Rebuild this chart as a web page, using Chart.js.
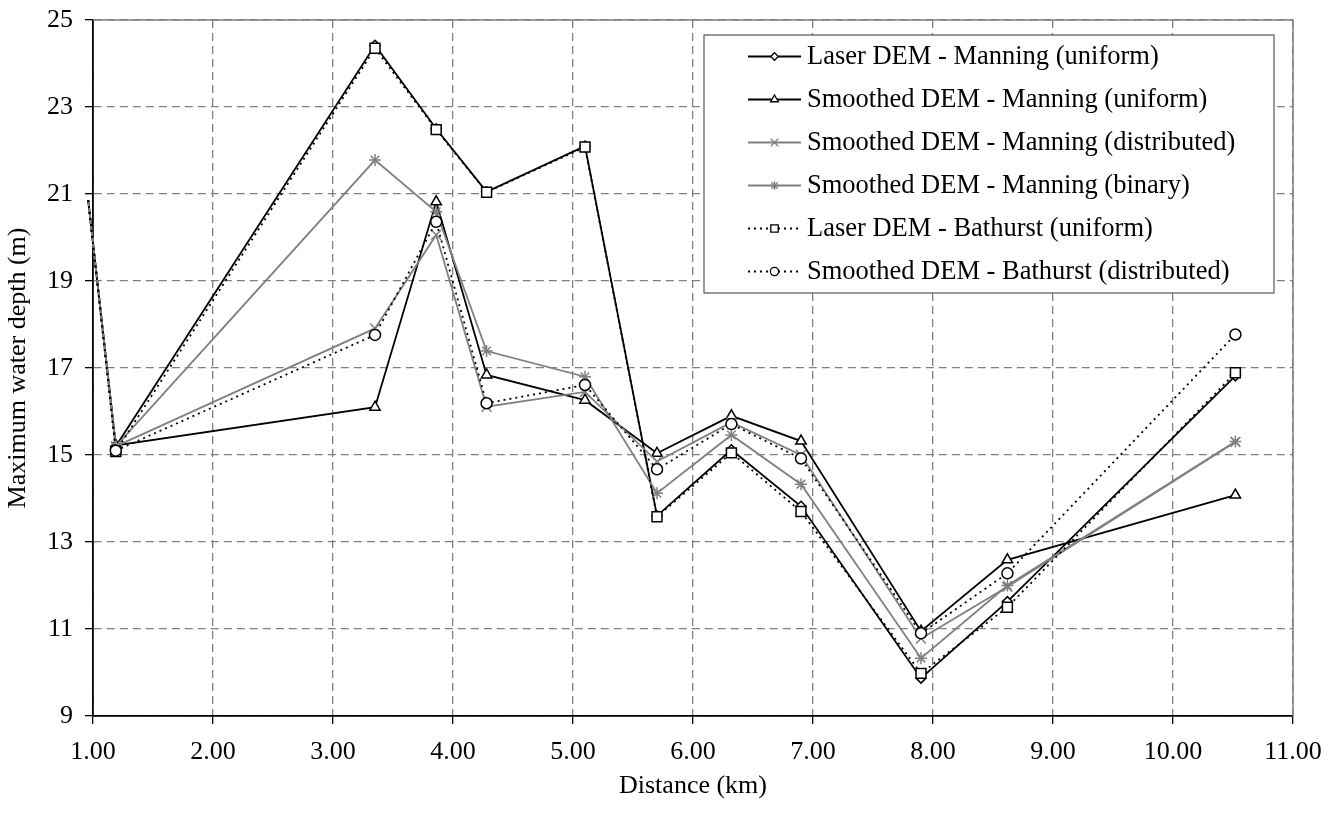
<!DOCTYPE html>
<html><head><meta charset="utf-8">
<script src="https://cdn.jsdelivr.net/npm/chart.js@4.4.0/dist/chart.umd.min.js"></script>
<style>html,body{margin:0;padding:0;background:#fff}canvas{display:block}</style>
</head><body>
<canvas id="c" width="1340" height="814"></canvas>
<script>
// Distance along reach (km); first value is the upstream boundary, left of the axis start
const distances = [0.96, 1.19, 3.35, 3.86, 4.28, 5.10, 5.70, 6.32, 6.90, 7.90, 8.62, 10.52];
const laserManningUniform      = [20.86, 15.20, 24.42, 22.50, 21.05, 22.10, 13.60, 15.12, 13.82, 9.87, 11.63, 16.82];
const smoothManningUniform     = [20.86, 15.22, 16.10, 20.82, 16.84, 16.26, 15.04, 15.90, 15.32, 10.95, 12.59, 14.08];
const smoothManningDistributed = [20.86, 15.20, 17.91, 20.06, 16.11, 16.45, 14.85, 15.75, 15.00, 10.78, 11.97, 15.30];
const smoothManningBinary      = [20.86, 15.20, 21.78, 20.59, 17.39, 16.80, 14.12, 15.46, 14.33, 10.33, 12.00, 15.31];
const laserBathurstUniform     = [20.86, 15.08, 24.35, 22.48, 21.04, 22.08, 13.58, 15.05, 13.70, 9.98, 11.50, 16.89];
const smoothBathurstDistributed= [20.86, 15.10, 17.76, 20.36, 16.19, 16.61, 14.67, 15.71, 14.92, 10.90, 12.28, 17.77];
const seriesNames = [
  'Laser DEM - Manning (uniform)',
  'Smoothed DEM - Manning (uniform)',
  'Smoothed DEM - Manning (distributed)',
  'Smoothed DEM - Manning (binary)',
  'Laser DEM - Bathurst (uniform)',
  'Smoothed DEM - Bathurst (distributed)'
];
const xMin = 1, xMax = 11, xStep = 1;
const yMin = 9, yMax = 25, yStep = 2;
const xTitle = 'Distance (km)';
const yTitle = 'Maximum water depth (m)';

const FONT = '"Liberation Serif", "Times New Roman", serif';
const GRAY = '#808080';

function pts(ys){ return distances.map((x,i)=>({x:x, y:ys[i]})); }

const styles = [
  {data: laserManningUniform, color:'#000', dash:[], marker:'rectRot', r:5, mcolor:'#000'},
  {data: smoothManningUniform, color:'#000', dash:[], marker:'triangle', r:6, mcolor:'#000'},
  {data: smoothManningDistributed, color:GRAY, dash:[], marker:'crossRot', r:7, mcolor:GRAY},
  {data: smoothManningBinary, color:GRAY, dash:[], marker:'star', r:6, mcolor:GRAY},
  {data: laserBathurstUniform, color:'#000', dash:[2,4], marker:'rect', r:7, mcolor:'#000'},
  {data: smoothBathurstDistributed, color:'#000', dash:[2,4], marker:'circle', r:5.5, mcolor:'#000'}
];

const datasets = styles.map((s,i)=>({
  label: seriesNames[i],
  data: pts(s.data),
  borderColor: s.color,
  borderWidth: 1.8,
  borderDash: s.dash,
  pointStyle: s.marker,
  pointRadius: ctx => ctx.dataIndex === 0 ? 0 : s.r,
  pointHoverRadius: ctx => ctx.dataIndex === 0 ? 0 : s.r,
  pointBorderColor: s.mcolor,
  pointBackgroundColor: '#fff',
  pointBorderWidth: 1.5,
  fill: false,
  tension: 0,
  showLine: true,
  clip: {left: 10, top: 8, right: 8, bottom: 8},
  order: styles.length - i
}));

const bgPlugin = {
  id: 'bg',
  beforeDraw(chart){
    const c = chart.ctx; c.save(); c.fillStyle = '#fff';
    c.fillRect(0,0,chart.width,chart.height); c.restore();
  }
};

const framePlugin = {
  id: 'frame',
  beforeDatasetsDraw(chart){
    const {ctx, chartArea:a} = chart;
    ctx.save();
    ctx.strokeStyle = GRAY; ctx.lineWidth = 1.5;
    ctx.beginPath();
    ctx.moveTo(a.left, a.top); ctx.lineTo(a.right, a.top); ctx.lineTo(a.right, a.bottom);
    ctx.stroke();
    ctx.restore();
  }
};

const legendPlugin = {
  id: 'customLegend',
  afterDraw(chart){
    const ctx = chart.ctx;
    const box = {x: 704, y: 35, w: 570, h: 258};
    ctx.save();
    ctx.fillStyle = '#fff';
    ctx.fillRect(box.x, box.y, box.w, box.h);
    ctx.strokeStyle = '#555'; ctx.lineWidth = 1.2;
    ctx.strokeRect(box.x, box.y, box.w, box.h);
    const rowH = box.h / 6;
    styles.forEach((s,i)=>{
      const cy = box.y + rowH*(i+0.5);
      const x0 = box.x + 44, x1 = box.x + 97, xm = (x0+x1)/2;
      ctx.strokeStyle = s.color; ctx.lineWidth = 1.8;
      ctx.setLineDash(s.dash);
      ctx.beginPath(); ctx.moveTo(x0, cy); ctx.lineTo(x1, cy); ctx.stroke();
      ctx.setLineDash([]);
      ctx.fillStyle = '#fff'; ctx.strokeStyle = s.mcolor; ctx.lineWidth = 1.3;
      if (Chart.helpers && Chart.helpers.drawPoint) {
        Chart.helpers.drawPoint(ctx, {pointStyle: s.marker, radius: s.r*0.75, rotation: 0, borderWidth: 1.3}, xm, cy);
      }
      ctx.fillStyle = '#000';
      ctx.font = '26.5px ' + FONT;
      ctx.textBaseline = 'middle'; ctx.textAlign = 'left';
      ctx.fillText(seriesNames[i], x1 + 6, cy + 1);
    });
    ctx.restore();
  }
};

new Chart(document.getElementById('c'), {
  type: 'line',
  data: { datasets },
  plugins: [bgPlugin, framePlugin, legendPlugin],
  options: {
    responsive: false,
    animation: false,
    devicePixelRatio: 1,
    layout: { padding: {top: 20, right: 47, left: 0, bottom: 0} },
    plugins: { legend: {display: false}, tooltip: {enabled: false} },
    scales: {
      x: {
        type: 'linear', min: xMin, max: xMax,
        afterFit: s => { s.height = 98; s.paddingLeft = 0; s.paddingRight = 0; },
        ticks: { stepSize: xStep, callback: v => Number(v).toFixed(2), color: '#000',
                 font: {family: FONT, size: 26}, padding: 13, maxRotation: 0, autoSkip: false },
        grid: { color: GRAY, lineWidth: 1.3, tickColor: '#000', tickLength: 8, tickWidth: 1.3, drawTicks: true },
        border: { display: true, color: '#000', width: 1.8, dash: [8,5] },
        title: { display: true, text: xTitle, color: '#000', font: {family: FONT, size: 26}, padding: {top: 0, bottom: 12} }
      },
      y: {
        type: 'linear', min: yMin, max: yMax,
        afterFit: s => { s.width = 93; s.paddingTop = 0; s.paddingBottom = 0; },
        ticks: { stepSize: yStep, color: '#000', font: {family: FONT, size: 26}, padding: 12 },
        grid: { color: GRAY, lineWidth: 1.3, tickColor: '#000', tickLength: 8, tickWidth: 1.3, drawTicks: true },
        border: { display: true, color: '#000', width: 1.8, dash: [8,5] },
        title: { display: true, text: yTitle, color: '#000', font: {family: FONT, size: 26}, padding: {top: 3, bottom: 0} }
      }
    }
  }
});
</script>
</body></html>
